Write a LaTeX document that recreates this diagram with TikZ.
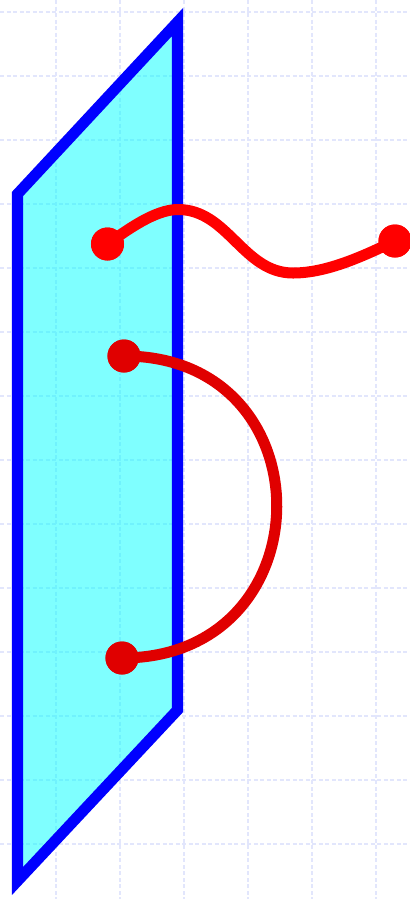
\documentclass[tikz,border=0pt]{standalone}
\begin{document}
\begin{tikzpicture}[x=0.01cm,y=-0.01cm,
  gridline/.style={draw={rgb,255:red,226;green,230;blue,252},line width=0.014cm,dash pattern=on 0.04cm off 0.025cm},
  plane/.style={draw=pblue,line width=0.11cm,fill=pcyan,fill opacity=0.5,draw opacity=1},
  wire/.style={line width=0.11cm},
  dotnode/.style={circle,inner sep=0pt,minimum size=0.33cm}]
\definecolor{darkred}{RGB}{224,0,0}
\definecolor{pred}{RGB}{255,0,0}
\definecolor{pblue}{RGB}{0,0,255}
\definecolor{pcyan}{RGB}{0,255,255}
\useasboundingbox (0,0) rectangle (410,899);
% grid
\foreach \gx in {56,120,184,248,312,376} \draw[gridline] (\gx,0) -- (\gx,899);
\foreach \gy in {12,76,140,204,268,332,396,460,524,588,652,716,780,844} \draw[gridline] (0,\gy) -- (410,\gy);
% plane
\coordinate (A) at (177.5,22);
\coordinate (B) at (17.5,194);
\coordinate (C) at (17.5,881);
\coordinate (D) at (177.5,710);
\draw[plane] (A) -- (B) -- (C) -- (D) -- cycle;
% dots
\node[dotnode,fill=pred] (t1) at (107.5,244) {};
\node[dotnode,fill=pred] (t2) at (395,241) {};
\node[dotnode,fill=darkred] (b1) at (124,356) {};
\node[dotnode,fill=darkred] (b2) at (122,658) {};
\coordinate (peak) at (178,209.5);
\coordinate (trough) at (293,273);
% wires
\draw[wire,pred] (t1.center) .. controls (127,230) and (155,209.5) .. (peak)
  .. controls (228,209.5) and (243,273) .. (trough)
  .. controls (328,273) and (365,255) .. (t2.center);
\draw[wire,darkred] (b1.center) .. controls (329,356) and (327,658) .. (b2.center);
% redraw dots on top
\node[dotnode,fill=pred] at (t1) {};
\node[dotnode,fill=pred] at (t2) {};
\node[dotnode,fill=darkred] at (b1) {};
\node[dotnode,fill=darkred] at (b2) {};
\end{tikzpicture}
\end{document}
